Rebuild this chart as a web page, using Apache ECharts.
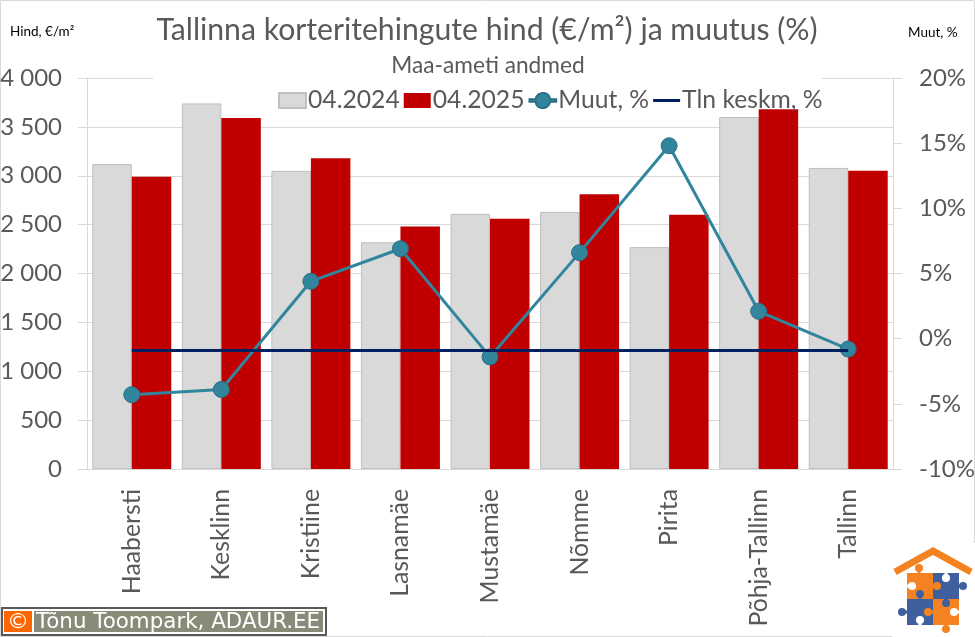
<!DOCTYPE html>
<html>
<head>
<meta charset="utf-8">
<script src="https://cdn.jsdelivr.net/npm/echarts@6/dist/echarts.min.js"></script>
<style>
  html, body { margin: 0; padding: 0; background: #fff; }
  #chart { width: 975px; height: 637px; }
</style>
</head>
<body>
<div id="chart"></div>
<script>
// Tallinn apartment prices
const categories = ['Haabersti', 'Kesklinn', 'Kristiine', 'Lasnamäe', 'Mustamäe', 'Nõmme', 'Pirita', 'Põhja-Tallinn', 'Tallinn'];
const price2024 = [3120, 3740, 3050, 2320, 2610, 2630, 2270, 3600, 3080];
const price2025 = [2990, 3590, 3180, 2480, 2560, 2810, 2600, 3680, 3050];
const change = [-4.3, -3.9, 4.4, 6.9, -1.4, 6.6, 14.8, 2.1, -0.8];
const cityAvg = [-0.9, -0.9, -0.9, -0.9, -0.9, -0.9, -0.9, -0.9, -0.9];

const FONT = 'Lato';
const TEXT = '#595959';
const LINE = '#d9d9d9';
const ORANGE = '#f58220';
const BLUE = '#3f5f9f';

const fmtPrice = (v) => String(v).replace(/\B(?=(\d{3})+$)/g, ' ');

const axisBase = {
  type: 'value',
  axisLine: { show: true, lineStyle: { color: LINE } },
  axisTick: { show: true, length: 9, lineStyle: { color: LINE } },
  splitLine: { show: false },
};

// logo: roof plus four puzzle pieces, each knob has a neck back to the piece edge
function logo() {
  const rect = (x, y, w, h, fill) => ({ type: 'rect', shape: { x, y, width: w, height: h }, style: { fill }, z: 20 });
  const knob = (cx, cy, ex, ey, fill) => [
    { type: 'line', shape: { x1: cx, y1: cy, x2: ex, y2: ey }, style: { stroke: fill, lineWidth: 3 }, z: 21 },
    { type: 'circle', shape: { cx, cy, r: 4 }, style: { fill }, z: 21 },
  ];
  return [
    rect(892, 543, 83, 94, '#fff'),
    { type: 'polyline', shape: { points: [[895, 572], [933, 551], [971, 572]] }, style: { stroke: ORANGE, lineWidth: 7, fill: 'none' }, z: 21 },
    rect(907, 573, 26, 26, ORANGE), rect(933, 573, 26, 26, BLUE),
    rect(907, 599, 26, 26, BLUE), rect(933, 599, 26, 26, ORANGE),
    ...knob(919, 568, 919, 574, ORANGE),
    ...knob(912, 586, 907, 586, '#fff'),
    ...knob(937, 586, 932, 586, ORANGE),
    ...knob(946, 578, 946, 573, '#fff'),
    ...knob(963, 586, 958, 586, BLUE),
    ...knob(920, 594, 920, 600, BLUE),
    ...knob(902, 612, 908, 612, BLUE),
    ...knob(928, 612, 933, 612, ORANGE),
    ...knob(946, 603, 946, 598, BLUE),
    ...knob(954, 612, 959, 612, '#fff'),
    ...knob(920, 620, 920, 625, '#fff'),
    ...knob(946, 629, 946, 624, ORANGE),
  ];
}

const chart = echarts.init(document.getElementById('chart'), null, { renderer: 'canvas' });
chart.setOption({
  animation: false,
  textStyle: { fontFamily: FONT },
  title: [
    { text: 'Tallinna korteritehingute hind (€/m²) ja muutus (%)', left: 482, top: 10, textAlign: 'center',
      textStyle: { fontFamily: FONT, fontSize: 30.2, fontWeight: 400, color: TEXT } },
    { text: 'Maa-ameti andmed', left: 483, top: 49, textAlign: 'center',
      textStyle: { fontFamily: FONT, fontSize: 22.7, fontWeight: 400, color: TEXT } },
    { text: 'Hind, €/m²', left: 5, top: 20, textStyle: { fontFamily: FONT, fontSize: 13.5, fontWeight: 400, color: '#000' } },
    { text: 'Muut, %', left: 903, top: 21, textStyle: { fontFamily: FONT, fontSize: 13.5, fontWeight: 400, color: '#000' } },
  ],
  legend: {
    left: 273, top: 83, itemGap: 4, itemWidth: 27, itemHeight: 15, z: 30,
    textStyle: { fontFamily: FONT, fontSize: 24.7, color: TEXT, padding: [0, 0, 0, -3] },
    data: [
      { name: '04.2024', icon: 'rect' },
      { name: '04.2025', icon: 'rect' },
      // line with a big round marker on it
      { name: 'Muut, %', icon: 'path://M0,6.2H6.1A7.5,7.5 0 0 1 20.9,6.2H27V8.8H20.9A7.5,7.5 0 0 1 6.1,8.8H0Z' },
      // thin bar inside an invisible full-height box, so the icon is not stretched
      { name: 'Tln keskm, %', icon: 'path://M0,0L0.01,0M0,6H27V9H0ZM0,15L0.01,15' },
    ],
  },
  // the right tick labels run close to the edge, keep the plot where it is
  grid: { left: 87, right: 82, top: 78, bottom: 168, outerBoundsMode: 'none' },
  xAxis: {
    type: 'category', data: categories,
    axisLine: { lineStyle: { color: LINE } },
    axisTick: { show: false },
    axisLabel: { rotate: 90, interval: 0, margin: 20, fontFamily: FONT, fontSize: 24.8, color: TEXT },
  },
  yAxis: [
    { ...axisBase, min: 0, max: 4000, interval: 500,
      splitLine: { show: true, lineStyle: { color: LINE } },
      axisLabel: { margin: 25, fontFamily: FONT, fontSize: 24, color: TEXT, formatter: fmtPrice } },
    { ...axisBase, min: -10, max: 20, interval: 5, position: 'right',
      axisLabel: { margin: 26, fontFamily: FONT, fontSize: 24, color: TEXT, formatter: '{value}%' } },
  ],
  series: [
    { name: '04.2024', type: 'bar', data: price2024, barWidth: 39.5, barGap: 0,
      itemStyle: { color: '#d9d9d9', borderColor: '#bfbfbf', borderWidth: 1 } },
    { name: '04.2025', type: 'bar', data: price2025, barWidth: 39.5,
      itemStyle: { color: '#c00000' } },
    { name: 'Muut, %', type: 'line', yAxisIndex: 1, data: change, symbol: 'circle', symbolSize: 16,
      lineStyle: { color: '#31859c', width: 3 },
      itemStyle: { color: '#31859c', borderColor: '#2a6f85', borderWidth: 1 }, z: 3 },
    { name: 'Tln keskm, %', type: 'line', yAxisIndex: 1, data: cityAvg, symbol: 'none',
      lineStyle: { color: '#002060', width: 3 }, itemStyle: { color: '#002060' }, z: 4 },
  ],
  graphic: [
    // frame of the picture
    { type: 'rect', shape: { x: 0.5, y: 0.5, width: 974, height: 636 }, style: { fill: 'none', stroke: LINE, lineWidth: 1 }, z: 0 },
    // the title block hides the top gridline
    { type: 'rect', shape: { x: 153, y: 74, width: 669, height: 8 }, style: { fill: '#fff' }, z: 1 },
    // credit box
    { type: 'rect', shape: { x: 2, y: 608, width: 324, height: 27 }, style: { fill: '#fff', stroke: '#595959', lineWidth: 2 }, z: 20 },
    { type: 'rect', shape: { x: 4, y: 611, width: 28, height: 21 }, style: { fill: '#ff6600' }, z: 21 },
    { type: 'rect', shape: { x: 34, y: 611, width: 289, height: 21 }, style: { fill: '#8a8a78' }, z: 21 },
    { type: 'text', x: 18, y: 622, style: { text: '©', fill: '#fff', font: '22px "DejaVu Sans"', align: 'center', verticalAlign: 'middle' }, z: 22 },
    { type: 'text', x: 36, y: 622, style: { text: 'Tõnu Toompark, ADAUR.EE', fill: '#fff', font: '21.4px "DejaVu Sans"', verticalAlign: 'middle' }, z: 22 },
    ...logo(),
  ],
});
</script>
</body>
</html>
